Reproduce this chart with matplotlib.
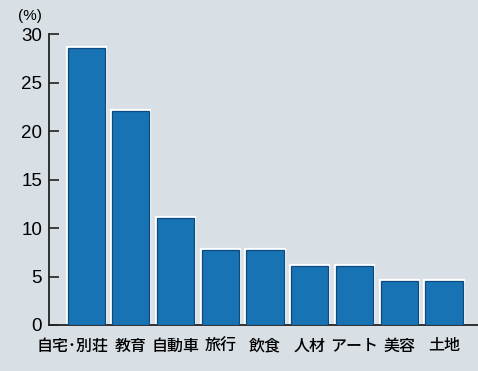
import matplotlib.pyplot as plt
import matplotlib.transforms as mtransforms
import numpy as np

plt.rcParams['font.family'] = ['Noto Sans CJK JP', 'DejaVu Sans']

categories = ["自宅･別荘", "教育", "自動車", "旅行", "飲食", "人材", "アート", "美容", "土地"]
values = [28.6, 22.1, 11.0, 7.7, 7.7, 6.1, 6.1, 4.5, 4.5]
yticks = [0, 5, 10, 15, 20, 25, 30]

bg = "#d9e0e5"
bar_color = "#1873b4"

fig = plt.figure(figsize=(4.78, 3.71), dpi=100, facecolor=bg)
ax = fig.add_axes([0.1025, 0.124, 0.8975, 0.784], facecolor=bg)

x = np.arange(len(categories))
# white halo behind each bar, then the bar with a darker rim
ax.bar(x, values, width=0.83, color=bar_color, edgecolor="white", linewidth=3.0, zorder=2)
ax.bar(x, values, width=0.83, color=bar_color, edgecolor="#0d4a80", linewidth=0.9, zorder=3)

ax.set_xlim(-0.83, 8.76)
ax.set_ylim(0, 30)
ax.set_yticks(yticks)
ax.set_yticklabels([str(v) for v in yticks], fontsize=13.5, family=["Liberation Sans", "DejaVu Sans"])
ax.set_xticks(x)
ax.set_xticklabels(categories, fontsize=11.5, weight="medium")

ax.tick_params(axis="y", direction="in", length=7, width=1.2, pad=5, color="#222222")
ax.tick_params(axis="x", length=0, pad=9)
for s in ["top", "right"]:
    ax.spines[s].set_visible(False)
for s in ["left", "bottom"]:
    ax.spines[s].set_linewidth(1.3)
    ax.spines[s].set_color("#222222")

# first label sits a bit left of its bar, as in the original
first = ax.get_xticklabels()[0]
first.set_transform(first.get_transform() + mtransforms.ScaledTranslation(-0.14, 0, fig.dpi_scale_trans))

fig.text(0.037, 0.975, "(%)", fontsize=11, ha="left", va="top", family=["Liberation Sans", "DejaVu Sans"])

fig.savefig("out.png", dpi=100, facecolor=bg)
